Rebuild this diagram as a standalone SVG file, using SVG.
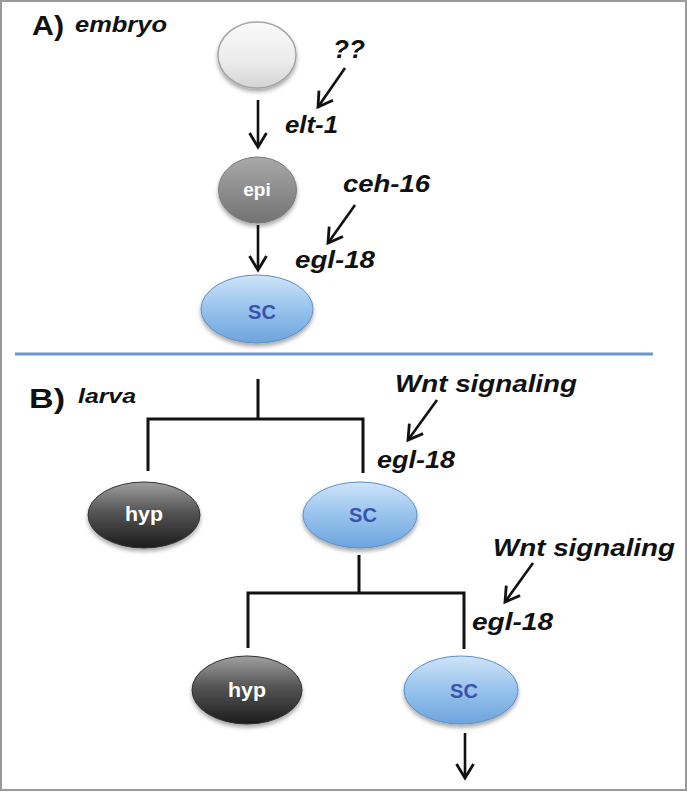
<svg xmlns="http://www.w3.org/2000/svg" width="687" height="792" viewBox="0 0 687 792">
<style>
.lbl{font-family:"Liberation Sans",Arial,sans-serif;font-weight:bold;font-style:italic;fill:#111}
.hdr{font-family:"Liberation Sans",Arial,sans-serif;font-weight:bold;fill:#111}
.nt{font-family:"Liberation Sans",Arial,sans-serif;font-weight:bold;text-anchor:middle}
.w{fill:#fff}
.sc{fill:#3a52ad}
.ln{fill:none;stroke:#111;stroke-width:3}
.arr{fill:none;stroke:#111;stroke-width:2.6;marker-end:url(#ah)}
</style>
<defs>
<marker id="ah" markerUnits="userSpaceOnUse" markerWidth="22" markerHeight="22" viewBox="0 0 22 22" refX="19" refY="11" orient="auto">
<path d="M5,2.5 L19,11 L5,19.5" fill="none" stroke="#111" stroke-width="2.8" stroke-linejoin="miter"/>
</marker>
<linearGradient id="gLight" x1="0" y1="0" x2="0" y2="1">
<stop offset="0" stop-color="#fafafa"/><stop offset="0.6" stop-color="#ebebeb"/><stop offset="1" stop-color="#d4d4d4"/>
</linearGradient>
<linearGradient id="gEpi" x1="0" y1="0" x2="0" y2="1">
<stop offset="0" stop-color="#a9a9a9"/><stop offset="0.5" stop-color="#8e8e8e"/><stop offset="1" stop-color="#727272"/>
</linearGradient>
<linearGradient id="gSC" x1="0" y1="0" x2="0" y2="1">
<stop offset="0" stop-color="#cfe4f8"/><stop offset="0.45" stop-color="#9cc6ee"/><stop offset="1" stop-color="#6da4dc"/>
</linearGradient>
<linearGradient id="gHyp" x1="0" y1="0" x2="0" y2="1">
<stop offset="0" stop-color="#a0a0a0"/><stop offset="0.45" stop-color="#555"/><stop offset="1" stop-color="#1c1c1c"/>
</linearGradient>
<filter id="sh" x="-20%" y="-20%" width="140%" height="150%">
<feGaussianBlur in="SourceAlpha" stdDeviation="2"/>
<feOffset dx="0" dy="3" result="b"/>
<feComponentTransfer><feFuncA type="linear" slope="0.35"/></feComponentTransfer>
<feMerge><feMergeNode/><feMergeNode in="SourceGraphic"/></feMerge>
</filter>
</defs>
<rect x="1" y="1" width="685" height="789" fill="#fff" stroke="#9a9a9a" stroke-width="2"/>

<g id="labels">
<text class="hdr" x="32" y="35" font-size="27" textLength="32" lengthAdjust="spacingAndGlyphs">A)</text>
<text class="lbl" x="75" y="32" font-size="22" textLength="92" lengthAdjust="spacingAndGlyphs">embryo</text>
<text class="hdr" x="29" y="408" font-size="27" textLength="36" lengthAdjust="spacingAndGlyphs">B)</text>
<text class="lbl" x="78" y="403" font-size="20" font-weight="normal" textLength="58" lengthAdjust="spacingAndGlyphs">larva</text>
<text class="lbl" x="333" y="58" font-size="26" textLength="32" lengthAdjust="spacingAndGlyphs">??</text>
<text class="lbl" x="285" y="133" font-size="24" textLength="53" lengthAdjust="spacingAndGlyphs">elt-1</text>
<text class="lbl" x="343" y="192" font-size="24" textLength="87" lengthAdjust="spacingAndGlyphs">ceh-16</text>
<text class="lbl" x="295" y="268" font-size="24" textLength="80" lengthAdjust="spacingAndGlyphs">egl-18</text>
<text class="lbl" x="395" y="392" font-size="24" textLength="182" lengthAdjust="spacingAndGlyphs">Wnt signaling</text>
<text class="lbl" x="377" y="468" font-size="24" textLength="78" lengthAdjust="spacingAndGlyphs">egl-18</text>
<text class="lbl" x="493" y="556" font-size="24" textLength="182" lengthAdjust="spacingAndGlyphs">Wnt signaling</text>
<text class="lbl" x="472" y="630" font-size="24" textLength="81" lengthAdjust="spacingAndGlyphs">egl-18</text>
</g>

<line x1="15" y1="354" x2="653" y2="354" stroke="#6b98d0" stroke-width="3"/>

<g id="connectors">
<line class="arr" x1="258" y1="100" x2="258" y2="147"/>
<line class="arr" x1="258" y1="225" x2="258" y2="270"/>
<line class="arr" x1="345" y1="68" x2="318" y2="107"/>
<line class="arr" x1="355" y1="205" x2="328" y2="243"/>
<line class="arr" x1="437" y1="400" x2="408" y2="440"/>
<line class="arr" x1="533" y1="563" x2="505" y2="602"/>
<line class="arr" x1="465" y1="733" x2="465" y2="778"/>
<path class="ln" d="M258,379 V419 M148,471 V419 H363 V473"/>
<path class="ln" d="M359,555 V593 M248,648 V593 H464 V649"/>
</g>

<g id="n_top"><ellipse cx="257" cy="55" rx="39" ry="33" fill="url(#gLight)" stroke="#a5a5a5" stroke-width="1.5" filter="url(#sh)"/></g>
<g id="n_epi"><ellipse cx="257.5" cy="190" rx="39" ry="33" fill="url(#gEpi)" stroke="#7a7a7a" stroke-width="1" filter="url(#sh)"/>
<text class="nt w" x="257" y="196" font-size="19">epi</text></g>
<g id="n_sc1"><ellipse cx="257" cy="309" rx="56" ry="34" fill="url(#gSC)" stroke="#5d8fca" stroke-width="1" filter="url(#sh)"/>
<text class="nt sc" x="262" y="319" font-size="20">SC</text></g>
<g id="n_hyp1"><ellipse cx="144" cy="515" rx="56" ry="33" fill="url(#gHyp)" stroke="#333" stroke-width="1" filter="url(#sh)"/>
<text class="nt w" x="144" y="521" font-size="20" textLength="38" lengthAdjust="spacingAndGlyphs">hyp</text></g>
<g id="n_sc2"><ellipse cx="360" cy="515" rx="57" ry="33" fill="url(#gSC)" stroke="#5d8fca" stroke-width="1" filter="url(#sh)"/>
<text class="nt sc" x="363" y="522" font-size="20">SC</text></g>
<g id="n_hyp2"><ellipse cx="247" cy="690" rx="55" ry="34" fill="url(#gHyp)" stroke="#333" stroke-width="1" filter="url(#sh)"/>
<text class="nt w" x="247" y="697" font-size="20" textLength="38" lengthAdjust="spacingAndGlyphs">hyp</text></g>
<g id="n_sc3"><ellipse cx="461" cy="690" rx="57" ry="34" fill="url(#gSC)" stroke="#5d8fca" stroke-width="1" filter="url(#sh)"/>
<text class="nt sc" x="464" y="698" font-size="20">SC</text></g>
</svg>
